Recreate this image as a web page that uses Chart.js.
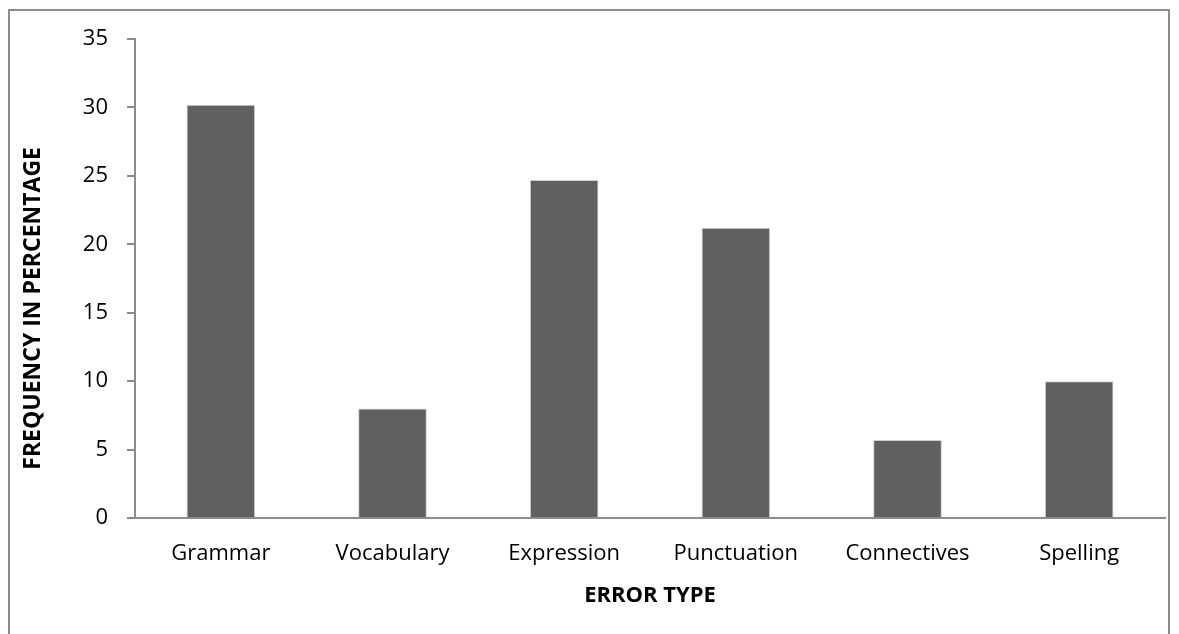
<!DOCTYPE html>
<html>
<head>
<meta charset="utf-8">
<script src="https://cdn.jsdelivr.net/npm/chart.js@4/dist/chart.umd.min.js"></script>
<style>
    html, body { margin: 0; padding: 0; background: #fff; }
    #wrap { position: relative; width: 1179px; height: 634px; }
    #frame { position: absolute; left: 8px; top: 9px; width: 1162px; height: 640px; border: 2px solid #8c8c8c; box-sizing: border-box; }
    canvas { position: absolute; left: 0; top: 0; }
</style>
</head>
<body>
<div id="wrap">
    <div id="frame"></div>
    <canvas id="errorChart" width="1179" height="634"></canvas>
</div>
<script>
// Error categories and their share
const categories = ["Grammar", "Vocabulary", "Expression", "Punctuation", "Connectives", "Spelling"];
const frequency = [30.2, 8.0, 24.7, 21.2, 5.7, 10.0];
const yTicks = [0, 5, 10, 15, 20, 25, 30, 35];

const FONT = "'Open Sans', 'DejaVu Sans', sans-serif";

// the y title sits a bit below the middle of the plot, trailing spaces push it down
const yTitle = "FREQUENCY IN PERCENTAGE" + " ".repeat(10);

const ctx = document.getElementById("errorChart").getContext("2d");
const chart = new Chart(ctx, {
    type: "bar",
    data: {
        labels: categories,
        datasets: [{
            label: "Frequency",
            data: frequency,
            backgroundColor: "#606060",
            borderColor: "#d0d0d0",
            borderWidth: 1,
            categoryPercentage: 1.0,
            barPercentage: 0.4
        }]
    },
    options: {
        responsive: false,
        animation: false,
        layout: {
            padding: { left: 16, right: 14, top: 39, bottom: 21 }
        },
        plugins: {
            legend: { display: false },
            tooltip: { enabled: false }
        },
        scales: {
            x: {
                grid: { display: false, drawTicks: false },
                border: { display: true, color: "#8c8c8c", width: 2 },
                ticks: {
                    color: "#000",
                    padding: 23,
                    font: { family: FONT, size: 22 }
                },
                title: {
                    display: true,
                    text: "ERROR TYPE",
                    color: "#000",
                    font: { family: FONT, size: 22, weight: "bold" }
                },
                afterFit: function (scale) { scale.height = 95; }
            },
            y: {
                min: 0,
                max: 35,
                afterBuildTicks: function (scale) {
                    scale.ticks = yTicks.map(v => ({ value: v }));
                },
                grid: {
                    drawOnChartArea: false,
                    drawTicks: true,
                    tickLength: 8,
                    color: "#8c8c8c",
                    lineWidth: 2
                },
                border: { display: true, color: "#8c8c8c", width: 2 },
                ticks: {
                    color: "#000",
                    padding: 19,
                    font: { family: FONT, size: 22 }
                },
                title: {
                    display: true,
                    text: yTitle,
                    color: "#000",
                    font: { family: FONT, size: 23, weight: "bold" }
                },
                afterFit: function (scale) { scale.width = 119; }
            }
        }
    }
});
</script>
</body>
</html>
